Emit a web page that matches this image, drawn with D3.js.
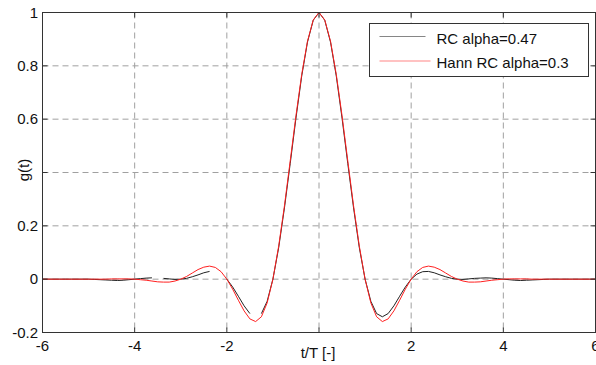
<!DOCTYPE html>
<html>
<head>
<meta charset="utf-8">
<script src="https://cdn.jsdelivr.net/npm/d3@7"></script>
<style>
  body { margin: 0; background: #fff; }
  svg { display: block; font-family: "Liberation Sans", Arial, Helvetica, sans-serif; }
</style>
</head>
<body>
<svg width="596" height="365"></svg>
<script>
// sample instants t/T, one every T/8 from -6 to 6
const tSamples = d3.range(-6, 6.0001, 0.125);

// RC alpha=0.47 (null = missing sample, the line breaks there)
const rcValues = [
  0, 0, 0, 0, 0, 0, 0, 0, 0,
  -0.001, -0.002, -0.003, -0.004, -0.005, -0.004, -0.002, 0,
  0.002, 0.004, 0.005, null, 0.003, 0.001, -0.001, 0,
  0.003, 0.009, 0.016, 0.024, 0.029, null, null, 0,
  -0.029, -0.064, -0.100, -0.129, null, -0.129, -0.083, 0,
  0.118, 0.267, 0.433, 0.604, 0.762, 0.889, 0.971,
  1,
  0.971, 0.889, 0.762, 0.604, 0.433, 0.267, 0.118, 0,
  -0.083, -0.129, -0.141, -0.129, -0.100, -0.064, -0.029, 0,
  0.019, 0.028, 0.029, 0.024, 0.016, 0.009, 0.003, 0,
  -0.001, 0.001, 0.003, 0.004, 0.005, 0.004, 0.002, 0,
  -0.002, -0.004, -0.005, -0.004, -0.003, -0.002, -0.001, 0,
  0, 0, 0, 0, 0, 0, 0, 0
];

// Hann RC alpha=0.3
const hannValues = [
  0, 0, 0, 0, 0, 0, 0, 0, 0,
  0, 0, 0, 0.001, 0.001, 0.001, 0.001, 0,
  -0.002, -0.004, -0.007, -0.010, -0.011, -0.011, -0.007, 0,
  0.010, 0.023, 0.036, 0.045, 0.049, 0.044, 0.028, 0,
  -0.037, -0.079, -0.119, -0.149, -0.159, -0.141, -0.089, 0,
  0.124, 0.275, 0.443, 0.613, 0.768, 0.892, 0.972,
  1,
  0.972, 0.892, 0.768, 0.613, 0.443, 0.275, 0.124, 0,
  -0.089, -0.141, -0.159, -0.149, -0.119, -0.079, -0.037, 0,
  0.028, 0.044, 0.049, 0.045, 0.036, 0.023, 0.010, 0,
  -0.007, -0.011, -0.011, -0.010, -0.007, -0.004, -0.002, 0,
  0.001, 0.001, 0.001, 0.001, 0, 0, 0, 0,
  0, 0, 0, 0, 0, 0, 0, 0
];

// labels hidden under the axis titles are left empty, as in the original
const xTicks = [-6, -4, -2, 0, 2, 4, 6];
const xTickLabels = ["-6", "-4", "-2", "", "2", "4", "6"];
const yTicks = [-0.2, 0, 0.2, 0.4, 0.6, 0.8, 1];
const yTickLabels = ["-0.2", "0", "0.2", "", "0.6", "0.8", "1"];

const series = [
  { label: "RC alpha=0.47", values: rcValues, color: "#222" },
  { label: "Hann RC alpha=0.3", values: hannValues, color: "#ff2020" }
];

const svg = d3.select("svg");
const plot = { left: 42.5, right: 595.5, top: 12.5, bottom: 332.5 };

const x = d3.scaleLinear().domain([-6, 6]).range([plot.left, plot.right]);
const y = d3.scaleLinear().domain([-0.2, 1]).range([plot.bottom, plot.top]);

// dashed grid
svg.append("g")
    .selectAll("line")
    .data(xTicks.slice(1, -1))
    .join("line")
    .attr("x1", d => x(d)).attr("x2", d => x(d))
    .attr("y1", plot.top).attr("y2", plot.bottom)
    .attr("stroke", "#a0a0a0")
    .attr("stroke-dasharray", "6 4");

svg.append("g")
    .selectAll("line")
    .data(yTicks.slice(1, -1))
    .join("line")
    .attr("x1", plot.left).attr("x2", plot.right)
    .attr("y1", d => y(d)).attr("y2", d => y(d))
    .attr("stroke", "#a0a0a0")
    .attr("stroke-dasharray", "6 4");

// curves
const line = d3.line()
    .defined(d => d.v !== null)
    .x(d => x(d.t))
    .y(d => y(d.v));

series.forEach(s => {
    svg.append("path")
        .datum(tSamples.map((t, i) => ({ t: t, v: s.values[i] })))
        .attr("fill", "none")
        .attr("stroke", s.color)
        .attr("stroke-width", 1)
        .attr("d", line);
});

// frame + inward ticks (matlab style box)
const frame = svg.append("g").attr("stroke", "#333").attr("stroke-width", 1);
frame.append("rect")
    .attr("x", plot.left).attr("y", plot.top)
    .attr("width", plot.right - plot.left).attr("height", plot.bottom - plot.top)
    .attr("fill", "none");

xTicks.forEach(d => {
    frame.append("line").attr("x1", x(d)).attr("x2", x(d)).attr("y1", plot.bottom).attr("y2", plot.bottom - 5);
    frame.append("line").attr("x1", x(d)).attr("x2", x(d)).attr("y1", plot.top).attr("y2", plot.top + 5);
});
yTicks.forEach(d => {
    frame.append("line").attr("x1", plot.left).attr("x2", plot.left + 5).attr("y1", y(d)).attr("y2", y(d));
    frame.append("line").attr("x1", plot.right).attr("x2", plot.right - 5).attr("y1", y(d)).attr("y2", y(d));
});

// tick labels
svg.append("g")
    .selectAll("text")
    .data(xTicks)
    .join("text")
    .attr("x", d => x(d))
    .attr("y", 351)
    .attr("text-anchor", "middle")
    .attr("font-size", "15px")
    .attr("fill", "#111")
    .text((d, i) => xTickLabels[i]);

svg.append("g")
    .selectAll("text")
    .data(yTicks)
    .join("text")
    .attr("x", 38)
    .attr("y", d => y(d) + 5)
    .attr("text-anchor", "end")
    .attr("font-size", "15px")
    .attr("fill", "#111")
    .text((d, i) => yTickLabels[i]);

// axis titles
svg.append("text")
    .attr("x", 318)
    .attr("y", 358)
    .attr("text-anchor", "middle")
    .attr("font-size", "15px")
    .attr("fill", "#111")
    .text("t/T [-]");

svg.append("text")
    .attr("transform", "translate(29,170) rotate(-90)")
    .attr("text-anchor", "middle")
    .attr("font-size", "15px")
    .attr("fill", "#111")
    .text("g(t)");

// legend
const legend = svg.append("g").attr("transform", "translate(369.5,23.5)");
legend.append("rect")
    .attr("width", 219)
    .attr("height", 53)
    .attr("fill", "#fff")
    .attr("stroke", "#333");

series.forEach((s, i) => {
    const ly = 13 + i * 24.5;
    legend.append("line")
        .attr("x1", 10).attr("x2", i === 0 ? 56 : 61)
        .attr("y1", ly).attr("y2", ly)
        .attr("stroke", s.color)
        .attr("stroke-opacity", 0.55);
    legend.append("text")
        .attr("x", 67)
        .attr("y", ly + 7)
        .attr("font-size", "15px")
        .attr("fill", "#111")
        .text(s.label);
});
</script>
</body>
</html>
